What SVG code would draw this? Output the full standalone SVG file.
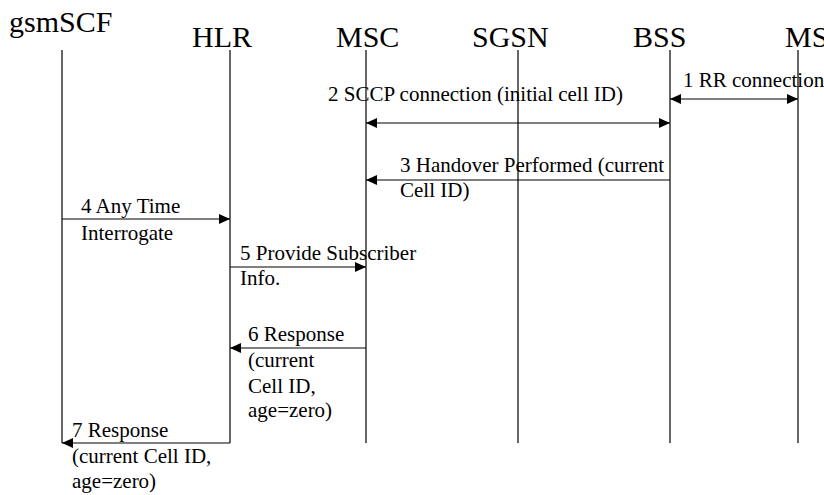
<svg xmlns="http://www.w3.org/2000/svg" width="824" height="495" viewBox="0 0 824 495">
<style>
text{fill:#000}
.h{font-size:30px}
.m{font-size:21px}
.ll{stroke:#000;stroke-width:1.2;fill:none}
.msg{stroke:#000;stroke-width:1.2;fill:none}
</style>
<defs>
<marker id="ah" markerUnits="userSpaceOnUse" markerWidth="11" markerHeight="10" refX="11" refY="5" orient="auto-start-reverse">
<path d="M0,0 L11,5 L0,10 Z" fill="#000"/>
</marker>
</defs>
<rect width="824" height="495" fill="#fff"/>
<g font-family="Liberation Serif">
<g id="gsmSCF"><text class="h" x="9" y="32">gsmSCF</text><line class="ll" x1="62" y1="50" x2="62" y2="443"/></g>
<g id="HLR"><text class="h" x="192" y="47">HLR</text><line class="ll" x1="230" y1="50" x2="230" y2="443"/></g>
<g id="MSC"><text class="h" x="336" y="47">MSC</text><line class="ll" x1="366" y1="50" x2="366" y2="443"/></g>
<g id="SGSN"><text class="h" x="472" y="47">SGSN</text><line class="ll" x1="518" y1="50" x2="518" y2="443"/></g>
<g id="BSS"><text class="h" x="633" y="47">BSS</text><line class="ll" x1="670" y1="50" x2="670" y2="443"/></g>
<g id="MS"><text class="h" x="785" y="47">MS</text><line class="ll" x1="798" y1="50" x2="798" y2="443"/></g>
<g id="connectors">
<line class="msg" x1="670" y1="99" x2="798" y2="99" marker-start="url(#ah)" marker-end="url(#ah)"/>
<line class="msg" x1="366" y1="123" x2="670" y2="123" marker-start="url(#ah)" marker-end="url(#ah)"/>
<line class="msg" x1="670" y1="180" x2="366" y2="180" marker-end="url(#ah)"/>
<line class="msg" x1="62" y1="219" x2="230" y2="219" marker-end="url(#ah)"/>
<line class="msg" x1="230" y1="267" x2="366" y2="267" marker-end="url(#ah)"/>
<line class="msg" x1="366" y1="348" x2="230" y2="348" marker-end="url(#ah)"/>
<line class="msg" x1="230" y1="443" x2="62" y2="443" marker-end="url(#ah)"/>
</g>
<g id="labels">
<text class="m" x="683" y="87">1 RR connection</text>
<text class="m" x="328" y="101">2 SCCP connection (initial cell ID)</text>
<text class="m" x="400" y="172">3 Handover Performed (current</text>
<text class="m" x="400" y="197">Cell ID)</text>
<text class="m" x="81" y="213">4 Any Time</text>
<text class="m" x="81" y="240">Interrogate</text>
<text class="m" x="240" y="260">5 Provide Subscriber</text>
<text class="m" x="240" y="285">Info.</text>
<text class="m" x="248" y="341">6 Response</text>
<text class="m" x="248" y="367">(current</text>
<text class="m" x="248" y="393">Cell ID,</text>
<text class="m" x="248" y="417">age=zero)</text>
<text class="m" x="72" y="437">7 Response</text>
<text class="m" x="72" y="463">(current Cell ID,</text>
<text class="m" x="72" y="488">age=zero)</text>
</g>
</g>
</svg>
